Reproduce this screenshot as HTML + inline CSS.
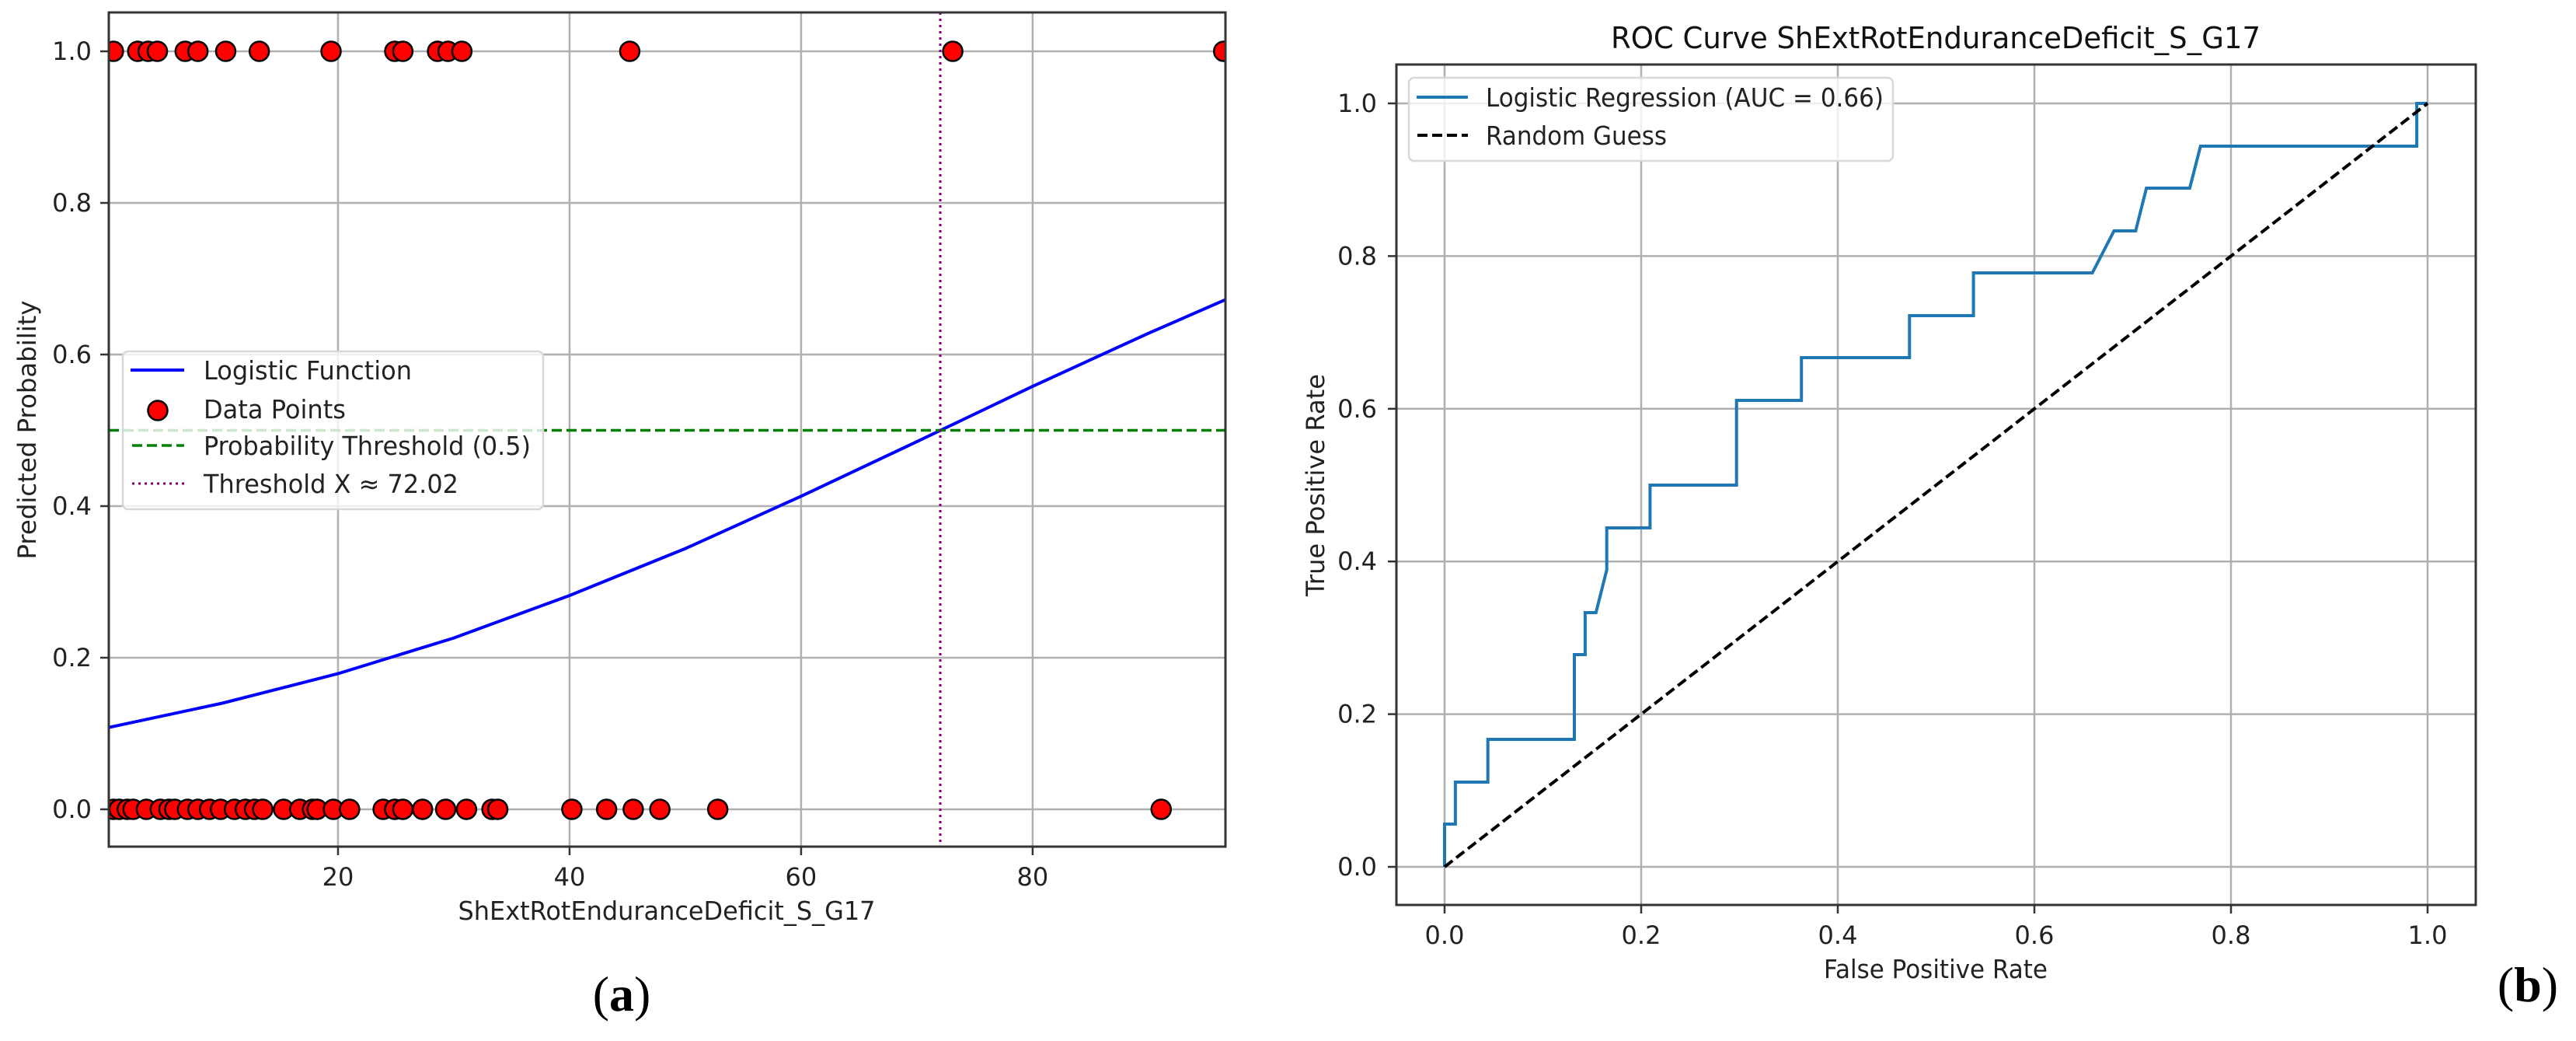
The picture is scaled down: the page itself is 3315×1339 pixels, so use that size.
<!DOCTYPE html>
<html><head><meta charset="utf-8"><style>
html,body{margin:0;padding:0;background:#fff;}
svg{display:block;font-family:"DejaVu Sans","Liberation Sans",sans-serif;}
</style></head><body>
<svg id="fig" width="3315" height="1339" viewBox="0 0 3315 1339" xmlns="http://www.w3.org/2000/svg">
<rect width="3315" height="1339" fill="#fff"/>
<g id="pa"></g>
<g id="pb"></g>
</svg>
<script>
// ---- Panel (a) data ----
const aXTicks = [20, 40, 60, 80];
const aYTicks = [0, 0.2, 0.4, 0.6, 0.8, 1.0];
const aYTickLabels = ["0.0", "0.2", "0.4", "0.6", "0.8", "1.0"];
const onesX = [0.6, 2.7, 3.6, 4.4, 6.8, 7.9, 10.3, 13.2, 19.4, 24.9, 25.6, 28.6, 29.5, 30.7, 45.2, 73.1, 96.5];
const zerosX = [0.6, 1.1, 1.8, 2.3, 3.45, 4.65, 5.4, 5.9, 7.0, 7.9, 8.9, 9.85, 11.05, 12.0, 12.8, 13.5, 15.3, 16.7, 17.8, 18.2, 19.6, 21.0, 23.9, 24.9, 25.6, 27.3, 29.3, 31.1, 33.3, 33.8, 40.2, 43.2, 45.5, 47.8, 52.8, 91.1];
const curveX = [0.2, 10, 20, 30, 40, 50, 60, 70, 80, 90, 96.6];
const curveP = [0.108, 0.140, 0.179, 0.226, 0.282, 0.344, 0.413, 0.485, 0.558, 0.628, 0.672];
const probThreshold = [0.5];
const thresholdX = [72.02];
// ---- Panel (b) data ----
const rocFPR = [0, 0, 0.011, 0.011, 0.044, 0.044, 0.132, 0.132, 0.143, 0.143, 0.154, 0.165, 0.165, 0.209, 0.209, 0.297, 0.297, 0.363, 0.363, 0.473, 0.473, 0.538, 0.538, 0.659, 0.681, 0.703, 0.714, 0.758, 0.769, 0.989, 0.989, 1.0];
const rocTPR = [0, 0.056, 0.056, 0.111, 0.111, 0.167, 0.167, 0.278, 0.278, 0.333, 0.333, 0.389, 0.444, 0.444, 0.5, 0.5, 0.611, 0.611, 0.667, 0.667, 0.722, 0.722, 0.778, 0.778, 0.833, 0.833, 0.889, 0.889, 0.944, 0.944, 1.0, 1.0];
const randX = [0, 1];
const randY = [0, 1];
const bTicks = [0, 0.2, 0.4, 0.6, 0.8, 1.0];
const bTickLabels = ["0.0", "0.2", "0.4", "0.6", "0.8", "1.0"];

const NS = "http://www.w3.org/2000/svg";
function mk(parent, tag, attrs, text){
  const e = document.createElementNS(NS, tag);
  for (const k in attrs) e.setAttribute(k, attrs[k]);
  if (text !== undefined) e.textContent = text;
  parent.appendChild(e);
  return e;
}
function lin(d0,d1,r0,r1){ return v => r0 + (v-d0)/(d1-d0)*(r1-r0); }

// ===== Panel (a) =====
const pa = document.getElementById('pa');
const A = {l:140, r:1577, t:16, b:1089};
const ax = lin(0, 72.02, 137, 1210);
const ay = lin(0, 1, 1041, 66);
let g;
g = mk(pa,'g',{});


aXTicks.forEach(v=>{ const l=mk(g,'line',{x1:ax(v),x2:ax(v),y1:A.t,y2:A.b,stroke:'#b0b0b0','stroke-width':2.5});   });
aYTicks.forEach(v=>{ const l=mk(g,'line',{x1:A.l,x2:A.r,y1:ay(v),y2:ay(v),stroke:'#b0b0b0','stroke-width':2.5});   });
// logistic curve
let d = curveX.map((x,i)=>(i?'L':'M')+ax(x).toFixed(1)+','+ay(curveP[i]).toFixed(1)).join(' ');
let e = mk(pa,'path',{d:d,fill:'none',stroke:'#0000ff','stroke-width':4});


// threshold lines
e = mk(pa,'line',{x1:A.l,x2:A.r,y1:ay(probThreshold[0]),y2:ay(probThreshold[0]),stroke:'#008000','stroke-width':3.5,'stroke-dasharray':'13 6'});


e = mk(pa,'line',{x1:ax(thresholdX[0]),x2:ax(thresholdX[0]),y1:A.t,y2:A.b,stroke:'#800080','stroke-width':3,'stroke-dasharray':'3 5'});


// points
const clipA = mk(pa,'clipPath',{id:'clipA'}); mk(clipA,'rect',{x:A.l,y:A.t,width:A.r-A.l,height:A.b-A.t});
g = mk(pa,'g',{'clip-path':'url(#clipA)'});


zerosX.forEach(x=>{ const c=mk(g,'circle',{cx:ax(x),cy:ay(0),r:12.5,fill:'#ff0000',stroke:'#000','stroke-width':2.5});   });
onesX.forEach(x=>{ const c=mk(g,'circle',{cx:ax(x),cy:ay(1),r:12.5,fill:'#ff0000',stroke:'#000','stroke-width':2.5});   });
// spines
e = mk(pa,'rect',{x:A.l,y:A.t,width:A.r-A.l,height:A.b-A.t,fill:'none',stroke:'#333','stroke-width':3});


// ticks
aXTicks.forEach(v=>{
  mk(pa,'line',{x1:ax(v),x2:ax(v),y1:A.b,y2:A.b+11,stroke:'#333','stroke-width':2.5});
  const t=mk(pa,'text',{x:ax(v),y:1139,'font-size':32,'text-anchor':'middle',fill:'#222'},String(v));
   
});
aYTicks.forEach((v,i)=>{
  mk(pa,'line',{x1:A.l-11,x2:A.l,y1:ay(v),y2:ay(v),stroke:'#333','stroke-width':2.5});
  const t=mk(pa,'text',{x:118,y:ay(v)+11,'font-size':32,'text-anchor':'end',fill:'#222'},aYTickLabels[i]);
   
});
e = mk(pa,'text',{x:858,y:1183,'font-size':33,'text-anchor':'middle',fill:'#222',textLength:537,lengthAdjust:'spacingAndGlyphs'},'ShExtRotEnduranceDeficit_S_G17');
 
e = mk(pa,'text',{x:0,y:0,'font-size':32,'text-anchor':'middle',fill:'#222',transform:'translate(46,553) rotate(-90)',textLength:333,lengthAdjust:'spacingAndGlyphs'},'Predicted Probability');
 
// legend
g = mk(pa,'g',{});


mk(g,'rect',{x:158,y:452,width:541,height:203,rx:7,fill:'#fff','fill-opacity':0.8,stroke:'#d8d8d8','stroke-width':2.5});
mk(g,'line',{x1:168,x2:237,y1:476,y2:476,stroke:'#0000ff','stroke-width':4});
mk(g,'circle',{cx:203,cy:528,r:12.5,fill:'#ff0000',stroke:'#000','stroke-width':2.5});
mk(g,'line',{x1:170,x2:237,y1:573,y2:573,stroke:'#008000','stroke-width':3.5,'stroke-dasharray':'13 6'});
mk(g,'line',{x1:170,x2:237,y1:622,y2:622,stroke:'#800080','stroke-width':3,'stroke-dasharray':'3 5'});
const aLeg = ['Logistic Function','Data Points','Probability Threshold (0.5)','Threshold X ≈ 72.02'];
const aLegY = [488, 538, 585, 634];
const aLegW = [268, 183, 421, 328];
aLeg.forEach((s,i)=>{ const t=mk(g,'text',{x:262,y:aLegY[i],'font-size':33,fill:'#222',textLength:aLegW[i],lengthAdjust:'spacingAndGlyphs'},s);   });
e = mk(pa,'text',{x:800,y:1300,'font-size':64,'text-anchor':'middle',fill:'#000','font-family':'Liberation Serif, serif'});
e.innerHTML = '(<tspan font-weight="bold">a</tspan>)';
 

// ===== Panel (b) =====
const pb = document.getElementById('pb');
const B = {l:1797, r:3186, t:83, b:1164};
const bx = lin(0,1,1859,3124);
const by = lin(0,1,1115,133);
g = mk(pb,'g',{});


bTicks.forEach(v=>{
  const l1=mk(g,'line',{x1:bx(v),x2:bx(v),y1:B.t,y2:B.b,stroke:'#b0b0b0','stroke-width':2.5});  
  const l2=mk(g,'line',{x1:B.l,x2:B.r,y1:by(v),y2:by(v),stroke:'#b0b0b0','stroke-width':2.5});  
});
d = rocFPR.map((x,i)=>(i?'L':'M')+bx(x).toFixed(1)+','+by(rocTPR[i]).toFixed(1)).join(' ');
e = mk(pb,'path',{d:d,fill:'none',stroke:'#1f77b4','stroke-width':4,'stroke-linejoin':'miter'});


e = mk(pb,'line',{x1:bx(randX[0]),y1:by(randY[0]),x2:bx(randX[1]),y2:by(randY[1]),stroke:'#000','stroke-width':4,'stroke-dasharray':'13 6'});


e = mk(pb,'rect',{x:B.l,y:B.t,width:B.r-B.l,height:B.b-B.t,fill:'none',stroke:'#333','stroke-width':3});


bTicks.forEach((v,i)=>{
  mk(pb,'line',{x1:bx(v),x2:bx(v),y1:B.b,y2:B.b+11,stroke:'#333','stroke-width':2.5});
  const t=mk(pb,'text',{x:bx(v),y:1214,'font-size':32,'text-anchor':'middle',fill:'#222'},bTickLabels[i]);
   
  mk(pb,'line',{x1:B.l-11,x2:B.l,y1:by(v),y2:by(v),stroke:'#333','stroke-width':2.5});
  const t2=mk(pb,'text',{x:1772,y:by(v)+11,'font-size':32,'text-anchor':'end',fill:'#222'},bTickLabels[i]);
   
});
e = mk(pb,'text',{x:2491,y:1258,'font-size':33,'text-anchor':'middle',fill:'#222',textLength:288,lengthAdjust:'spacingAndGlyphs'},'False Positive Rate');
 
e = mk(pb,'text',{x:0,y:0,'font-size':32,'text-anchor':'middle',fill:'#222',transform:'translate(1704,624) rotate(-90)',textLength:286,lengthAdjust:'spacingAndGlyphs'},'True Positive Rate');
 
e = mk(pb,'text',{x:2491,y:62,'font-size':38,'text-anchor':'middle',fill:'#111',textLength:836,lengthAdjust:'spacingAndGlyphs'},'ROC Curve ShExtRotEnduranceDeficit_S_G17');
 
g = mk(pb,'g',{});


mk(g,'rect',{x:1813,y:100,width:623,height:107,rx:7,fill:'#fff','fill-opacity':0.8,stroke:'#d8d8d8','stroke-width':2.5});
mk(g,'line',{x1:1823,x2:1889,y1:125,y2:125,stroke:'#1f77b4','stroke-width':4});
mk(g,'line',{x1:1824,x2:1889,y1:174,y2:174,stroke:'#000','stroke-width':4,'stroke-dasharray':'13 6'});
e = mk(g,'text',{x:1912,y:137,'font-size':33,fill:'#222',textLength:512,lengthAdjust:'spacingAndGlyphs'},'Logistic Regression (AUC = 0.66)');
 
e = mk(g,'text',{x:1912,y:186,'font-size':33,fill:'#222',textLength:233,lengthAdjust:'spacingAndGlyphs'},'Random Guess');
 
e = mk(pb,'text',{x:3253,y:1288,'font-size':64,'text-anchor':'middle',fill:'#000','font-family':'Liberation Serif, serif'});
e.innerHTML = '(<tspan font-weight="bold">b</tspan>)';
 
</script>
</body></html>
